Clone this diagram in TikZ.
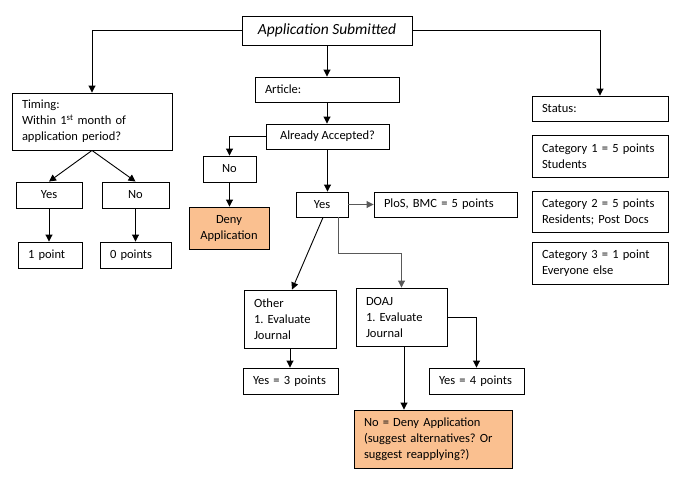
\documentclass[tikz,border=0pt]{standalone}
\usepackage{fontspec}
\setmainfont{Carlito}
\usetikzlibrary{arrows.meta}
\frenchspacing
\tikzset{
  box/.style={draw, line width=0.9pt, inner sep=0pt, font=\fontsize{12.5}{16}\selectfont},
  lbox/.style={box, align=left, inner xsep=10pt},
  peach/.style={fill=peachfill},
  arr/.style={line width=0.9pt, -{Triangle[length=7pt,width=7pt]}},
  garr/.style={arr, draw=black!65},
}
\definecolor{peachfill}{HTML}{FAC090}
\begin{document}
\begin{tikzpicture}[x=1pt,y=-1pt]
\useasboundingbox (0,0) rectangle (677,488);
% top
\node[box, minimum width=170, minimum height=29, font=\fontsize{15.5}{18}\selectfont\itshape] (app) at (327,30.5) {Application Submitted};
% timing branch
\node[lbox, minimum width=160, minimum height=57, text width=140] (timing) at (92,121.5) {Timing:\\Within 1\textsuperscript{st} month of\\application period?};
\node[box, minimum width=66, minimum height=26] (tyes) at (49,195) {Yes};
\node[box, minimum width=67, minimum height=26] (tno) at (135.5,195) {No};
\node[lbox, minimum width=64, minimum height=26, text width=44] (one) at (50,255) {1 point};
\node[lbox, minimum width=71, minimum height=26, text width=51] (zero) at (135.5,255) {0 points};
% article branch
\node[lbox, minimum width=144, minimum height=25, text width=124] (article) at (327,89.5) {Article:};
\node[box, minimum width=123, minimum height=25] (acc) at (327.5,136.5) {Already Accepted?};
\node[box, minimum width=53, minimum height=26] (ano) at (229.5,169) {No};
\node[box, peach, minimum width=80, minimum height=42, align=center] (deny) at (229,228) {Deny\\Application};
\node[box, minimum width=52, minimum height=25] (ayes) at (322,204.5) {Yes};
\node[lbox, minimum width=143, minimum height=25, text width=123] (plos) at (445.5,204.5) {PloS, BMC = 5 points};
\node[lbox, minimum width=92, minimum height=58, text width=72] (other) at (290,319) {Other\\1. Evaluate\\Journal};
\node[lbox, minimum width=91, minimum height=58, text width=71] (doaj) at (401.5,317) {DOAJ\\1. Evaluate\\Journal};
\node[lbox, minimum width=95, minimum height=26, text width=75] (y3) at (290.5,381) {Yes = 3 points};
\node[lbox, minimum width=95, minimum height=26, text width=75] (y4) at (476.5,381) {Yes = 4 points};
\node[lbox, peach, minimum width=158, minimum height=58, text width=138] (ndeny) at (433,439) {No = Deny Application\\(suggest alternatives? Or\\suggest reapplying?)};
% status branch
\node[lbox, minimum width=136, minimum height=25, text width=116] (status) at (600,108.5) {Status:};
\node[lbox, minimum width=136, minimum height=42, text width=116] (c1) at (600,156) {Category 1 = 5 points\\Students};
\node[lbox, minimum width=136, minimum height=41, text width=116] (c2) at (600,211.5) {Category 2 = 5 points\\Residents; Post Docs};
\node[lbox, minimum width=136, minimum height=42, text width=116] (c3) at (600,263) {Category 3 = 1 point\\Everyone else};
% connectors
\draw[arr] (app.west) -| (timing.north);
\draw[arr] (app.east) -| (status.north);
\draw[arr] (app.south -| article.north) -- (article.north);
\draw[arr] (timing.south) -- (tyes.north);
\draw[arr] (timing.south) -- (tno.north);
\draw[arr] (tyes.south) -- (tyes.south |- one.north);
\draw[arr] (tno.south) -- (tno.south |- zero.north);
\draw[arr] (article.south) -- (article.south |- acc.north);
\draw[arr] (acc.west) -| (ano.north);
\draw[arr] (ano.south) -- (ano.south |- deny.north);
\draw[arr] (acc.south) -- (acc.south |- ayes.north);
\draw[garr] (ayes.east) -- (plos.west);
\draw[arr] ([xshift=1pt]ayes.south) -- ([xshift=2pt]other.north);
\coordinate (ys) at ([xshift=16pt]ayes.south);
\draw[garr] (ys) -- ++(0,36) -| (doaj.north);
\draw[arr] (other.south) -- (other.south |- y3.north);
\draw[arr] (doaj.east) -| (y4.north);
\draw[arr] ([xshift=2.5pt]doaj.south) -- ([xshift=2.5pt]doaj.south |- ndeny.north);
\end{tikzpicture}
\end{document}
